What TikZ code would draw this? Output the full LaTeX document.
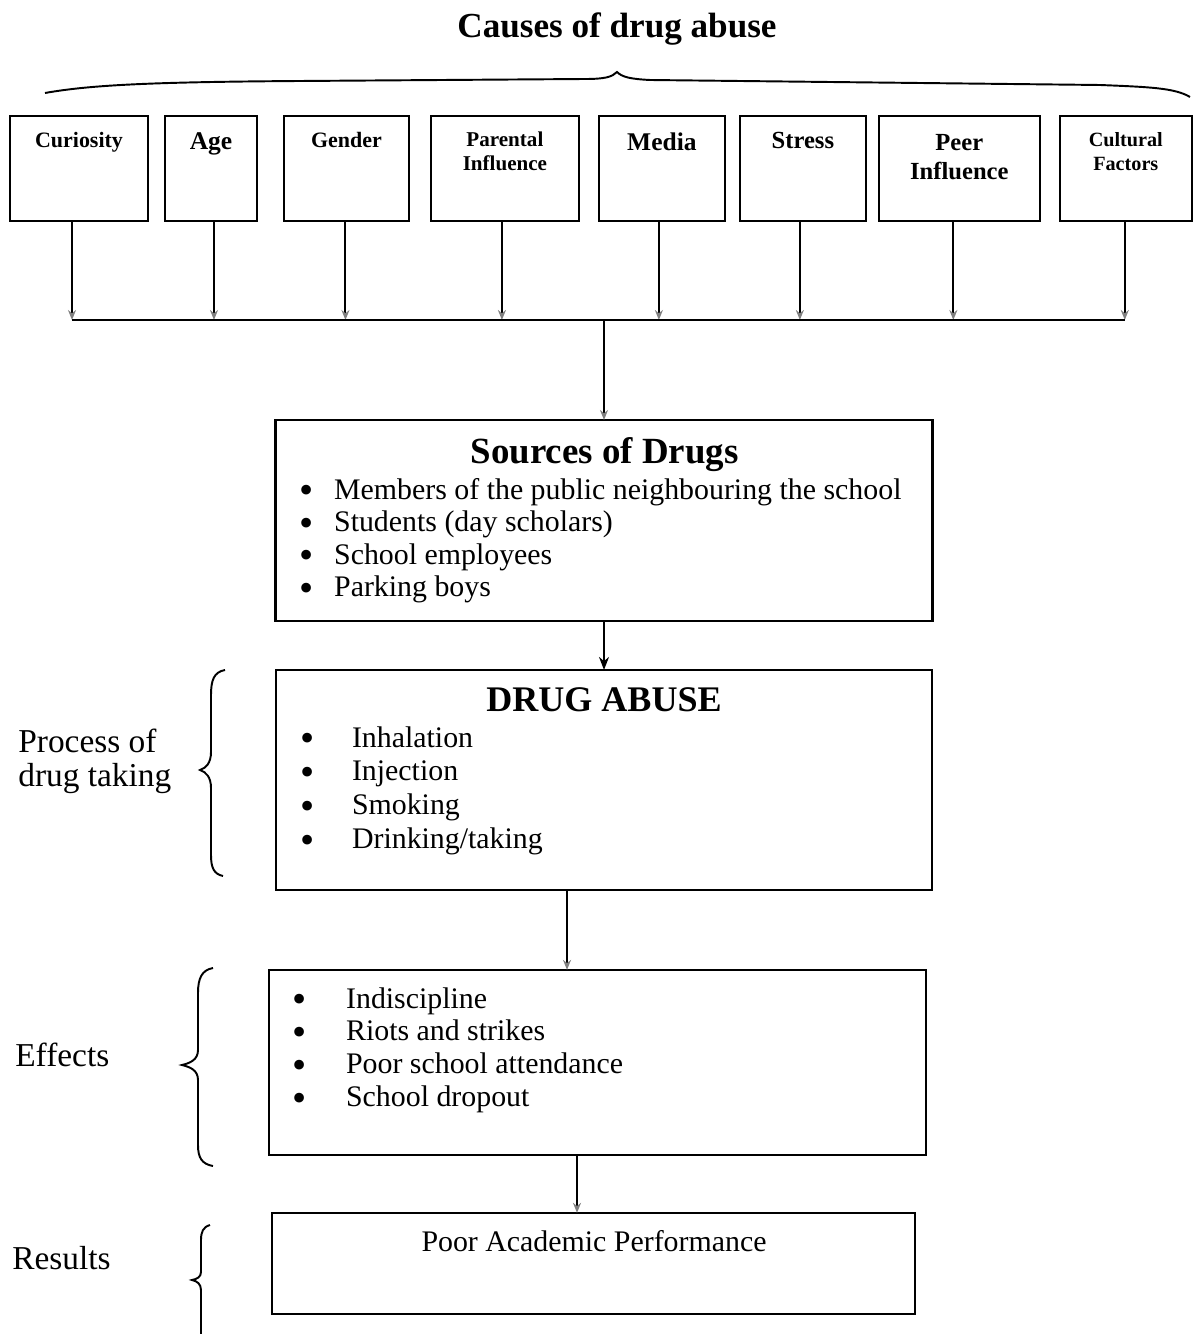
\documentclass[tikz,border=0pt]{standalone}
\usepackage{fontspec}
\setmainfont{Liberation Serif}
\usetikzlibrary{arrows.meta,positioning,calc}
\tikzset{
  cause/.style={rectangle, draw=black, line width=1.4pt, minimum height=2.1cm,
    inner sep=0pt, outer sep=0pt},
  causelbl/.style={anchor=north, yshift=-0.32cm, inner sep=0pt, align=center,
    font=\bfseries\fontsize{12.5}{13.6}\selectfont},
  causebig/.style={anchor=north, yshift=-0.32cm, inner sep=0pt, align=center,
    font=\bfseries\fontsize{14.5}{16}\selectfont},
  panel/.style={rectangle, draw=black, line width=1.4pt, inner sep=0pt, outer sep=0pt},
  head/.style={anchor=base, inner sep=0pt, font=\bfseries\fontsize{20.5}{24}\selectfont},
  item/.style={anchor=base west, inner sep=0pt, font=\fontsize{17}{20}\selectfont},
  side/.style={anchor=west, align=left, inner sep=0pt, font=\fontsize{19}{19.5}\selectfont},
  feed/.style={line width=1.1pt, -{Stealth[length=2mm, width=1.6mm, color=black!50]}},
  arr/.style={line width=1.1pt, -{Stealth[length=2.6mm, width=2mm]}},
  curly/.style={line width=1.1pt},
}
\newcommand{\blt}[2]{\makebox[#1][l]{\smash{\raisebox{-2.8pt}{\fontsize{23}{20}\selectfont\textbullet}}}#2}

\begin{document}
\begin{tikzpicture}[x=0.02cm, y=-0.02cm]
  \useasboundingbox (0,0) rectangle (1197,1334);
  % title and top brace
  \node[head, font=\bfseries\fontsize{20}{24}\selectfont] (title) at (617,38) {Causes of drug abuse};
  \draw[curly] (45,93) .. controls (90,85) and (150,82) .. (300,81) -- (585,79)
    .. controls (605,79) and (612,77) .. (617,72) .. controls (622,77) and (630,79) .. (650,80)
    -- (1100,85) .. controls (1150,87) and (1175,88) .. (1190,97);
  % causes (top row)
  \node[cause, minimum width=2.76cm, label={[causelbl]north:Curiosity}] (cur) at (79,168.5) {};
  \node[cause, minimum width=1.84cm, right=0.34cm of cur, label={[causebig]north:Age}] (age) {};
  \node[cause, minimum width=2.5cm, right=0.54cm of age, label={[causelbl]north:Gender}] (gen) {};
  \node[cause, minimum width=2.96cm, right=0.44cm of gen,
    label={[causelbl, font=\bfseries\fontsize{12}{13.6}\selectfont]north:{Parental\\Influence}}] (par) {};
  \node[cause, minimum width=2.52cm, right=0.4cm of par, label={[causebig]north:Media}] (med) {};
  \node[cause, minimum width=2.52cm, right=0.3cm of med, label={[causebig, font=\bfseries\fontsize{14}{16}\selectfont]north:Stress}] (str) {};
  \node[cause, minimum width=3.22cm, right=0.26cm of str,
    label={[causebig, yshift=-0.05cm, font=\bfseries\fontsize{14}{16}\selectfont]north:{Peer\\Influence}}] (peer) {};
  \node[cause, minimum width=2.64cm, right=0.4cm of peer,
    label={[causelbl, font=\bfseries\fontsize{11.5}{13.6}\selectfont]north:{Cultural\\Factors}}] (cul) {};
  % collecting bar
  \coordinate (bar) at (604,320);
  \foreach \c/\dx in {cur/-7, age/3, gen/-1, par/-3, med/-3, str/-3, peer/-6, cul/-1}
    \draw[feed] ($(\c.south)+(\dx,0)$) coordinate (\c-t) -- (\c-t |- bar);
  \draw[line width=1.1pt] (cur-t |- bar) -- (cul-t |- bar);
  % chain of boxes
  \node[panel, minimum width=13.14cm, minimum height=4.02cm, below=2cm of bar] (src) {};
  \node[panel, minimum width=13.12cm, minimum height=4.4cm, below=0.98cm of src] (abuse) {};
  \node[panel, minimum width=13.14cm, minimum height=3.7cm, below=1.6cm of abuse, xshift=-0.13cm] (eff) {};
  \node[panel, minimum width=12.86cm, minimum height=2.02cm, below=1.16cm of eff, xshift=-0.08cm] (res) {};
  % box contents
  \node[head, font=\bfseries\fontsize{21}{24}\selectfont] (src-h) at (604.5,463) {Sources of Drugs};
  \foreach \t [count=\i from 0] in {Members of the public neighbouring the school, Students (day scholars),
      School employees, Parking boys}
    \node[item] (src-\i) at (299,499+32.5*\i) {\blt{19.8pt}{\t}};
  \node[head] (abuse-h) at (604,711) {DRUG ABUSE};
  \foreach \t [count=\i from 0] in {Inhalation, Injection, Smoking, {Drinking/taking}}
    \node[item] (abuse-\i) at (300,747+33.7*\i) {\blt{29.4pt}{\t}};
  \foreach \t [count=\i from 0] in {Indiscipline, Riots and strikes, Poor school attendance, School dropout}
    \node[item] (eff-\i) at (292,1008+32.7*\i) {\blt{30.6pt}{\t}};
  \node[item, anchor=base] (res-h) at (594,1251) {Poor Academic Performance};
  % arrows between boxes
  \draw[feed] (bar) -- (src.north);
  \draw[arr] (src.south) -- (abuse.north);
  \draw[feed] ($(abuse.south)+(-37,0)$) coordinate (d1) -- (d1 |- eff.north);
  \draw[feed] ($(eff.south)+(-20.5,0)$) coordinate (d2) -- (d2 |- res.north);
  % side labels and braces
  \node[side] (proc) at (18,761) {Process of\\drug taking};
  \node[side] (effl) at (15,1055) {Effects};
  \node[side] (resl) at (12,1258) {Results};
  \draw[curly] (225,670) .. controls (214,672) and (211,680) .. (211,695) -- (211,752)
    .. controls (211,763) and (206,768) .. (200,770) .. controls (206,772) and (211,777) .. (211,788)
    -- (211,855) .. controls (211,868) and (214,874) .. (223,876);
  \draw[curly] (213,968) .. controls (202,970) and (198,978) .. (198,993) -- (198,1050)
    .. controls (198,1060) and (190,1063) .. (182,1065) .. controls (190,1067) and (198,1070) .. (198,1080)
    -- (198,1145) .. controls (198,1158) and (202,1164) .. (213,1166);
  \draw[curly] (210,1225) .. controls (203,1227) and (201,1232) .. (201,1240) -- (201,1272)
    .. controls (201,1277) and (197,1279) .. (192,1280) .. controls (197,1281) and (201,1284) .. (201,1290)
    -- (201,1334);
\end{tikzpicture}
\end{document}
